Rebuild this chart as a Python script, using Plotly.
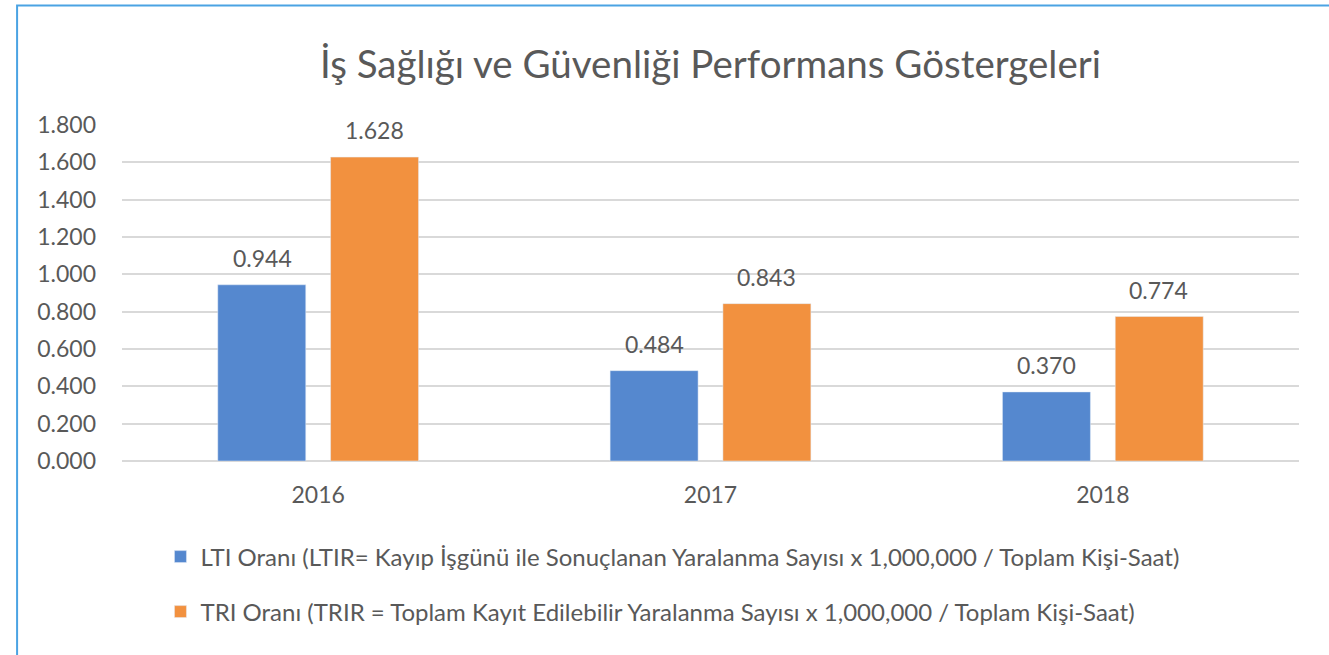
import plotly.graph_objects as go

years = ["2016", "2017", "2018"]
lti = [0.944, 0.484, 0.370]
tri = [1.628, 0.843, 0.774]
lti_name = "LTI Oranı (LTIR= Kayıp İşgünü ile Sonuçlanan Yaralanma Sayısı x 1,000,000 / Toplam Kişi-Saat)"
tri_name = "TRI Oranı (TRIR = Toplam Kayıt Edilebilir Yaralanma Sayısı x 1,000,000 / Toplam Kişi-Saat)"
title = "İş Sağlığı ve Güvenliği Performans Göstergeleri"
y_ticks = [0, 0.2, 0.4, 0.6, 0.8, 1.0, 1.2, 1.4, 1.6, 1.8]

BLUE = "#5588CF"
ORANGE = "#F2913F"
GREY = "#595959"
FONT = "Lato"
FS = 23

fig = go.Figure()
fig.add_trace(go.Bar(x=years, y=lti, name=lti_name, marker_color=BLUE, legend="legend"))
fig.add_trace(go.Bar(x=years, y=tri, name=tri_name, marker_color=ORANGE, legend="legend2"))

# data labels: category index of each year, shifted onto its bar
for vals, xs in ((lti, -56), (tri, 56)):
    for i, (yr, v) in enumerate(zip(years, vals)):
        fig.add_annotation(x=i, y=v, xref="x", yref="y", text=f"{v:.3f}", showarrow=False,
                           xshift=xs, yshift=27, font=dict(size=FS, color=GREY, family=FONT))

fig.add_shape(type="rect", xref="paper", yref="paper",
              x0=-105/1178, x1=1.06, y0=-0.7, y1=(461-5.5)/336,
              line=dict(color="#4BA3E3", width=2), fillcolor="rgba(0,0,0,0)", layer="below")

fig.update_layout(
    width=1329, height=655,
    margin=dict(l=121.5, r=29.5, t=125, b=194),
    paper_bgcolor="white", plot_bgcolor="white",
    font=dict(family=FONT, color=GREY, size=FS),
    title=dict(text=title, x=0.5, xref="paper", xanchor="center", y=1-65/655, yanchor="middle",
               font=dict(size=38.5, color=GREY, family=FONT)),
    barmode="group", bargap=0.425, bargroupgap=0.22,
    legend=dict(x=(160-121.5)/1178, y=(461-557)/336, xanchor="left", yanchor="middle",
                font=dict(size=24, color=GREY), bgcolor="rgba(0,0,0,0)"),
    legend2=dict(x=(160-121.5)/1178, y=(461-612)/336, xanchor="left", yanchor="middle",
                 font=dict(size=24, color=GREY), bgcolor="rgba(0,0,0,0)"),
    showlegend=True,
)
fig.update_xaxes(type="category", range=[-0.5, len(years) - 0.5], showgrid=False, showline=False,
                 ticks="", tickfont=dict(size=FS, color=GREY), ticklabelstandoff=18)
fig.update_yaxes(range=[0, 1.8], tickvals=y_ticks, tickformat=".3f", showgrid=True,
                 gridcolor="#D9D9D9", gridwidth=1.5, zeroline=True, zerolinecolor="#D9D9D9",
                 zerolinewidth=1.5, showline=False, ticks="", tickfont=dict(size=FS, color=GREY),
                 ticklabelstandoff=25)

fig.write_html("out.html", config={"displayModeBar": False},
               post_script="document.body.style.margin='0px';")
